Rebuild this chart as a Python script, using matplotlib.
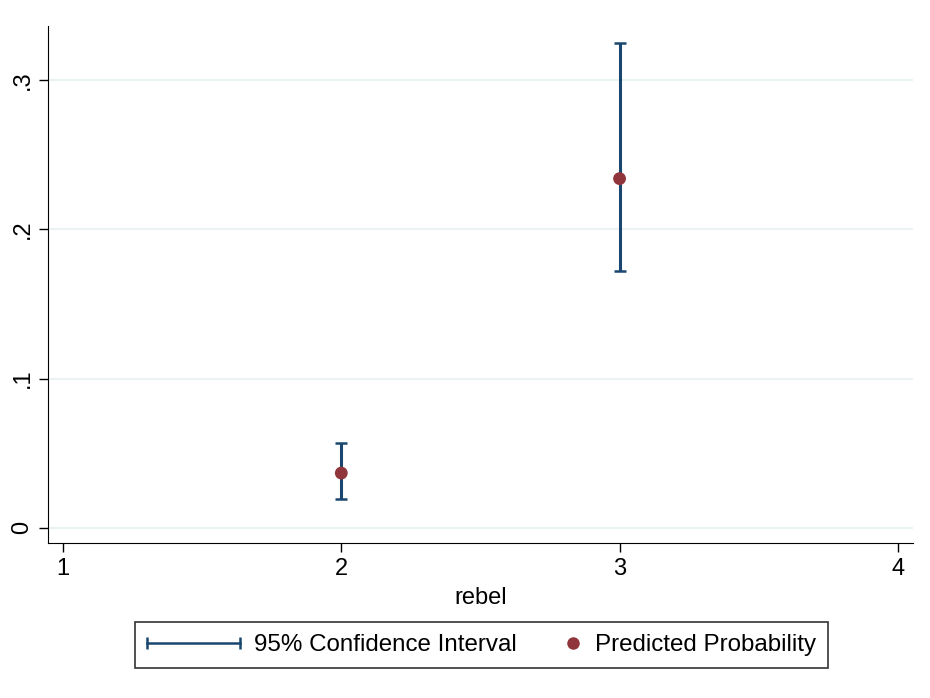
import numpy as np
import matplotlib.pyplot as plt
from matplotlib.lines import Line2D
from matplotlib.legend_handler import HandlerLine2D, HandlerBase

plt.rcParams['font.family'] = ['Liberation Sans', 'DejaVu Sans']

# predicted probabilities by rebel category
rebel = [2, 3]
prob = [0.0367, 0.2338]
ci_lo = [0.0194, 0.1723]
ci_hi = [0.0568, 0.3247]

xticks = [1, 2, 3, 4]
yticks = [0, 0.1, 0.2, 0.3]
ylabels = ['0', '.1', '.2', '.3']

ci_c = '#1a476f'
pt_c = '#90353b'


class DotHandler(HandlerBase):
    # dot sits near the right end of the handle box, close to its label
    def create_artists(self, legend, orig_handle, xdescent, ydescent,
                       width, height, fontsize, trans):
        x = -xdescent + width - 0.3 * fontsize
        y = -ydescent + height / 2
        dot = Line2D([x], [y], linestyle='none', marker='o', markersize=9,
                     color=pt_c, markeredgecolor='none', transform=trans)
        return [dot]


fig = plt.figure(figsize=(9.3, 6.98), dpi=100)
ax = fig.add_axes([0.0516, 0.2221, 0.93, 0.7407])

for y in yticks:
    ax.axhline(y, color='#eaf2f3', lw=1.5, zorder=0)

yerr = [np.array(prob) - np.array(ci_lo), np.array(ci_hi) - np.array(prob)]
ax.errorbar(rebel, prob, yerr=yerr, fmt='none', ecolor=ci_c, elinewidth=2.2,
            capsize=4.6, capthick=1.8, zorder=2)
ax.scatter(rebel, prob, s=85, color=pt_c, zorder=3, edgecolors='none')

ax.set_xlim(0.946, 4.054)
ax.set_ylim(-0.0101, 0.336)
ax.set_xticks(xticks)
ax.set_xticklabels([str(x) for x in xticks])
ax.set_yticks(yticks)
ax.set_yticklabels(ylabels, rotation=90, va='center')
ax.tick_params(labelsize=17, length=6.5, width=1, pad=4)
ax.set_xlabel('rebel', fontsize=17, labelpad=5)

ax.spines['top'].set_visible(False)
ax.spines['right'].set_visible(False)

h1 = Line2D([0], [0], color=ci_c, lw=1.8, marker='|', markersize=9,
            markeredgewidth=1.8)
h2 = Line2D([0], [0], linestyle='none', marker='o', color=pt_c)

leg = fig.legend([h1, h2], ['95% Confidence Interval', 'Predicted Probability'],
                 handler_map={h1: HandlerLine2D(numpoints=2, marker_pad=0),
                              h2: DotHandler()},
                 loc='center', bbox_to_anchor=(0.5177, 0.0759), ncol=2,
                 frameon=True, fancybox=False, edgecolor='black',
                 fontsize=17.4, handlelength=3.83, columnspacing=-1.2,
                 borderpad=0.5, handletextpad=0.6)
leg.get_frame().set_linewidth(1.2)

plt.savefig('out.png')
